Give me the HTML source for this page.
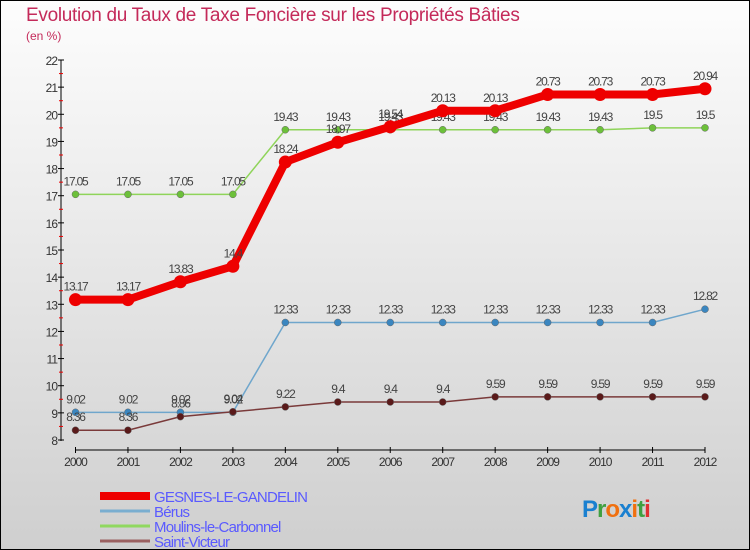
<!DOCTYPE html>
<html><head><meta charset="utf-8"><style>
body{margin:0}
#c{width:750px;height:550px;position:relative;box-sizing:border-box;border:1px solid #000;background:linear-gradient(#fdfdfd,#cfcfcf);overflow:hidden;font-family:"Liberation Sans",sans-serif}
</style></head><body>
<div id="c">
<svg id="s" width="750" height="550" style="position:absolute;left:-1px;top:-1px"></svg>
</div>
<script>
const years=[2000,2001,2002,2003,2004,2005,2006,2007,2008,2009,2010,2011,2012];
const gesnes=[13.17,13.17,13.83,14.4,18.24,18.97,19.54,20.13,20.13,20.73,20.73,20.73,20.94];
const berus=[9.02,9.02,9.02,9.02,12.33,12.33,12.33,12.33,12.33,12.33,12.33,12.33,12.82];
const moulins=[17.05,17.05,17.05,17.05,19.43,19.43,19.43,19.43,19.43,19.43,19.43,19.5,19.5];
const saint=[8.36,8.36,8.86,9.04,9.22,9.4,9.4,9.4,9.59,9.59,9.59,9.59,9.59];
const yTicks=[8,9,10,11,12,13,14,15,16,17,18,19,20,21,22];
const names=["GESNES-LE-GANDELIN","Bérus","Moulins-le-Carbonnel","Saint-Victeur"];
const NS="http://www.w3.org/2000/svg";
const s=document.getElementById('s');
const X=i=>75.5+i*(705-75.5)/(years.length-1);
const Y=v=>440-(v-8)*(380/14);
function el(t,a,txt,p){const e=document.createElementNS(NS,t);for(const k in a)e.setAttribute(k,a[k]);if(txt!==undefined)e.textContent=txt;(p||s).appendChild(e);return e;}
let e;
e=el('text',{x:26,y:21,'font-size':19,fill:'#c42a5a','letter-spacing':'-0.3'},'Evolution du Taux de Taxe Foncière sur les Propriétés Bâties');

e=el('text',{x:26,y:40,'font-size':12,fill:'#c42a5a'},'(en %)');

e=el('line',{x1:61,y1:60,x2:61,y2:441,stroke:'#000'});

yTicks.forEach((t,i)=>{
 const y=Y(t);
 const l=el('line',{x1:58,y1:y,x2:64,y2:y,stroke:'#000'});
 
 const tx=el('text',{x:57,y:y+5,'font-size':12,fill:'#333','text-anchor':'end','letter-spacing':'-1'},t);
 
 if(i<yTicks.length-1){const m=el('line',{x1:59,y1:Y(t+0.5),x2:63,y2:Y(t+0.5),stroke:'#e00'});
 }
});
e=el('line',{x1:X(0),y1:450,x2:X(12),y2:450,stroke:'#000'});

years.forEach((yr,i)=>{
 const l=el('line',{x1:X(i),y1:447,x2:X(i),y2:453,stroke:'#000'});
 
 const t=el('text',{x:X(i),y:466,'font-size':12,fill:'#333','text-anchor':'middle','letter-spacing':'-1'},yr);
 
});
const series=[[moulins,'#8fd45a','#6cc03a',1.5,3.5,'moulins'],[berus,'#6fa6cc','#3a86c0',1.5,3.5,'berus'],[saint,'#7a3a3a','#5a1a1a',1.5,3.5,'saint-victeur'],[gesnes,'#ee0000','#ee0000',8,6.5,'gesnes']];
series.forEach(([d,lc,pc,w,r,n])=>{
 const p=el('polyline',{points:d.map((v,i)=>X(i)+','+Y(v)).join(' '),fill:'none',stroke:lc,'stroke-width':w});
 
 d.forEach((v,i)=>{
  const c=el('circle',{cx:X(i),cy:Y(v),r:r,fill:pc,stroke:n=='gesnes'?'none':'#666','stroke-width':0.5});
  
  const t=el('text',{x:X(i),y:Y(v)-9,'font-size':12,fill:'#444','text-anchor':'middle','letter-spacing':'-1.2'},v);
  
 });
});
const lg=[['#ee0000',8],['#7aaed0',3],['#90d860',3],['#9a6060',3]];
lg.forEach(([c,w],i)=>{
 const y=496+i*15;
 const l=el('line',{x1:100,y1:y,x2:150,y2:y,stroke:c,'stroke-width':w});
 
 const t=el('text',{x:154,y:y+6,'font-size':15,fill:'#5a5aff','letter-spacing':'-0.8'},names[i]);
 
});
const lt=el('text',{x:582,y:517,'font-size':24,'font-weight':'bold','letter-spacing':'-1'});

[['P','#1a80d0'],['r','#40a040'],['o','#f07010'],['x','#1a80d0'],['i','#f07010'],['t','#40a040'],['i','#e03030']].forEach(([ch,c])=>{el('tspan',{fill:c},ch,lt);});
</script>
</body></html>
